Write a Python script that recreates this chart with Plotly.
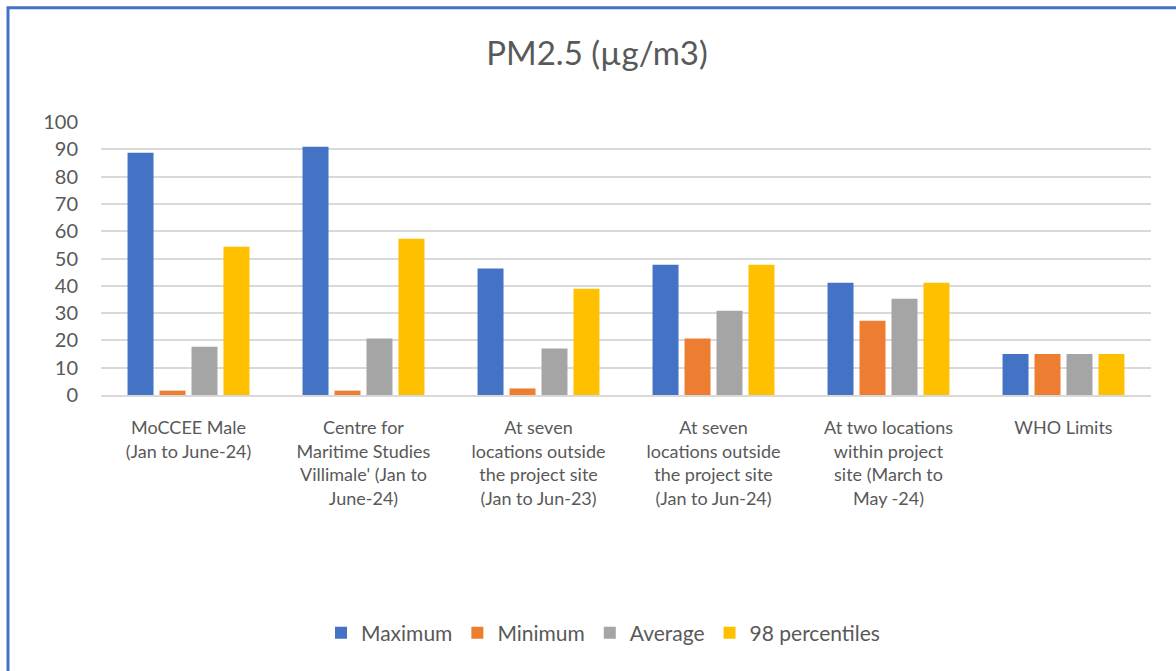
import plotly.graph_objects as go

categories = [
    "MoCCEE Male<br>(Jan to June-24)",
    "Centre for<br>Maritime Studies<br>Villimale' (Jan to<br>June-24)",
    "At seven<br>locations outside<br>the project site<br>(Jan to Jun-23)",
    "At seven<br>locations outside<br>the project site<br>(Jan to Jun-24)",
    "At two locations<br>within project<br>site (March to<br>May -24)",
    "WHO Limits",
]
maximum = [88.7, 90.9, 46.3, 47.7, 41.1, 15]
minimum = [1.6, 1.6, 2.4, 20.7, 27.2, 15]
average = [17.7, 20.7, 17.0, 30.9, 35.3, 15]
p98 = [54.3, 57.2, 38.9, 47.7, 41.1, 15]

series = [
    ("Maximum", maximum, "#4472C4"),
    ("Minimum", minimum, "#ED7D31"),
    ("Average", average, "#A5A5A5"),
    ("98 percentiles", p98, "#FFC000"),
]

W, H = 1176, 671
L, R, T, B = 101, 1151, 122, 395.5

fig = go.Figure()
for name, vals, col in series:
    fig.add_trace(go.Bar(x=categories, y=vals, name=name, marker_color=col,
                         marker_line_width=0))

font = dict(family="Lato, Carlito, 'Open Sans', sans-serif", color="#595959")

fig.update_layout(
    width=W, height=H,
    margin=dict(l=L, r=W - R, t=T, b=H - B, autoexpand=False),
    paper_bgcolor="white", plot_bgcolor="white",
    barmode="group", bargap=0.269, bargroupgap=0.1875,
    font=dict(**font, size=18),
    title=dict(text="PM2.5 (µg/m3)", x=597 / W, xanchor="center",
               y=1 - 53 / H, yanchor="middle",
               font=dict(**font, size=33)),
    legend=dict(orientation="h", x=603 / W, xanchor="center", xref="container",
                y=1 - 633 / H, yref="container", yanchor="middle",
                font=dict(**font, size=21), itemwidth=30, traceorder="normal"),
    showlegend=True,
)
fig.update_yaxes(range=[0, 100], dtick=10, showgrid=True, gridcolor="#D9D9D9",
                 gridwidth=1.5, zeroline=False, showline=False, ticks="",
                 ticklabelstandoff=22, tickfont=dict(**font, size=20))
fig.update_xaxes(showline=True, linecolor="#D9D9D9", linewidth=1.5, ticks="",
                 ticklabelstandoff=16, tickfont=dict(**font, size=18),
                 tickangle=0)

# chart border (partially visible)
fig.add_shape(type="rect", xref="paper", yref="paper",
              x0=(8 - L) / (R - L), x1=(1190 - L) / (R - L),
              y0=(B - 690) / (B - T), y1=(B - 7.5) / (B - T),
              line=dict(color="#4472C4", width=3), fillcolor="rgba(0,0,0,0)",
              layer="below")

fig.write_html("out.html", config={"displayModeBar": False},
               post_script="document.body.style.margin='0';")
